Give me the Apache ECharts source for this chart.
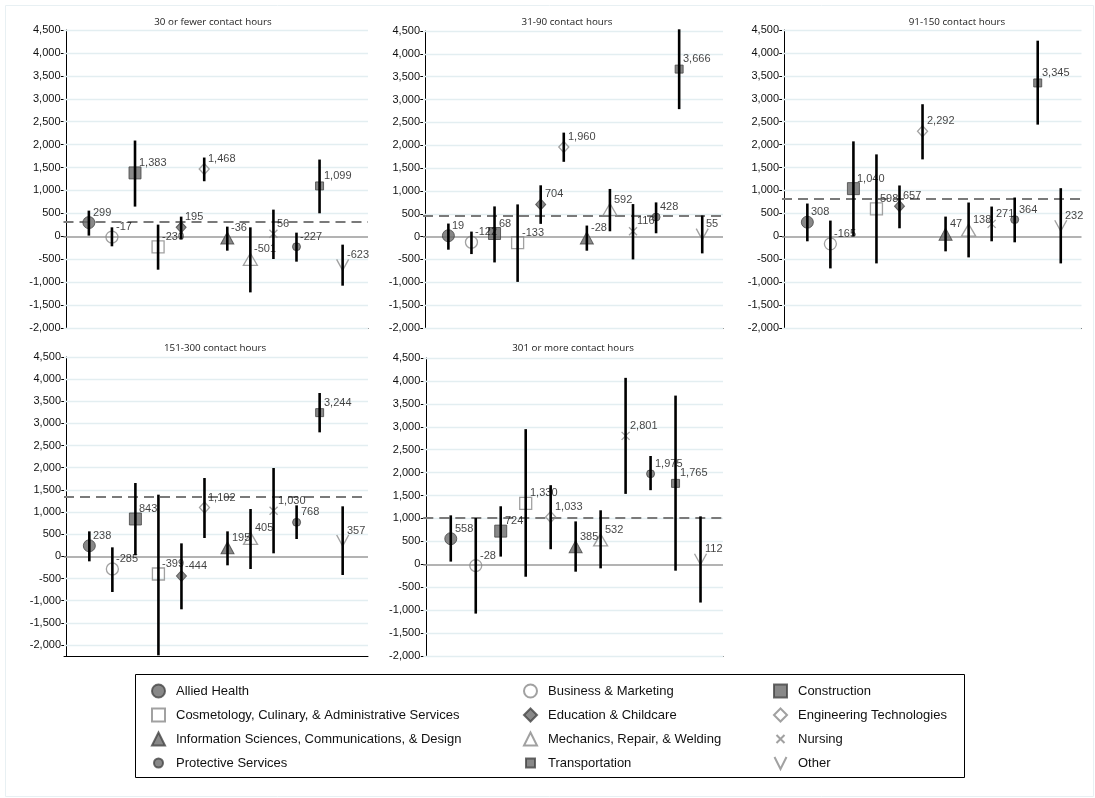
<!DOCTYPE html>
<html>
<head>
<meta charset="utf-8">
<script src="https://cdn.jsdelivr.net/npm/echarts@6/dist/echarts.min.js"></script>
<style>
  html, body { margin: 0; padding: 0; background: #fff; }
  #chart { width: 1095px; height: 798px; }
</style>
</head>
<body>
<div id="chart"></div>
<script>
// Program categories, in plotting order
const categories = [
  'Allied Health',
  'Business & Marketing',
  'Construction',
  'Cosmetology, Culinary, & Administrative Services',
  'Education & Childcare',
  'Engineering Technologies',
  'Information Sciences, Communications, & Design',
  'Mechanics, Repair, & Welding',
  'Nursing',
  'Protective Services',
  'Transportation',
  'Other'
];

const panelTitles = [
  '30 or fewer contact hours',
  '31-90 contact hours',
  '91-150 contact hours',
  '151-300 contact hours',
  '301 or more contact hours'
];

// Point estimates and confidence bounds by contact-hour band (null = no estimate)
const estUpTo30 = [299, -17, 1383, -230, 195, 1468, -36, -501, 56, -227, 1099, -623];
const lowUpTo30 = [15, -218, 648, -728, -58, 1201, -313, -1223, -495, -553, 502, -1077];
const highUpTo30 = [560, 196, 2089, 255, 429, 1718, 211, 196, 582, 80, 1674, -182];

const est31to90 = [19, -122, 68, -133, 704, 1960, -28, 592, 116, 428, 3666, 55];
const low31to90 = [-286, -382, -565, -991, 279, 1637, -308, 117, -499, 73, 2790, -367];
const high31to90 = [286, 110, 661, 705, 1123, 2276, 242, 1043, 712, 749, 4537, 463];

const est91to150 = [308, -165, 1040, 598, 657, 2292, 47, 138, 271, 364, 3345, 232];
const low91to150 = [-109, -700, 5, -591, 175, 1678, -328, -460, -109, -131, 2436, -591];
const high91to150 = [715, 343, 2071, 1787, 1109, 2881, 430, 737, 649, 846, 4267, 1050];

const est151to300 = [238, -285, 843, -399, -444, 1102, 195, 405, 1030, 768, 3244, 357];
const low151to300 = [-113, -805, 23, -2235, -1196, 414, -203, -286, 68, 391, 2799, -421];
const high151to300 = [564, 203, 1655, 1392, 293, 1768, 564, 1068, 1994, 1151, 3687, 1129];

const est301plus = [558, -28, 724, 1330, null, 1033, 385, 532, 2801, 1975, 1765, 112];
const low301plus = [59, -1075, 168, -271, null, 329, -161, -88, 1536, 1617, -139, -834];
const high301plus = [1068, 1010, 1266, 2948, null, 1726, 936, 1178, 4067, 2363, 3680, 1046];

// Overall estimate for each band (dashed reference line)
const overallEstimate = [321, 466, 830, 1354, 1024];

// Y-axis tick labels
const yTickValues = [-2000, -1500, -1000, -500, 0, 500, 1000, 1500, 2000, 2500, 3000, 3500, 4000, 4500];
const yAxisMin = [-2000, -2000, -2000, -2250, -2000];
const yAxisMax = 4500;

const estimates = [estUpTo30, est31to90, est91to150, est151to300, est301plus];
const lowers = [lowUpTo30, low31to90, low91to150, low151to300, low301plus];
const uppers = [highUpTo30, high31to90, high91to150, high151to300, high301plus];

// ---- Styling ----
const FONT = 'Liberation Sans, Arial, sans-serif';
const FILL = '#6a6a6a';
const EDGE = '#454545';
const HOLLOW = '#8a8a8a';
const CLEAR = 'rgba(0,0,0,0)';

const markerStyles = [
  { symbol: 'circle', size: 12, filled: true },
  { symbol: 'circle', size: 12, filled: false },
  { symbol: 'rect', size: 12, filled: true },
  { symbol: 'rect', size: 12, filled: false },
  { symbol: 'diamond', size: [10, 11], filled: true },
  { symbol: 'diamond', size: [10, 11], filled: false },
  { symbol: 'triangle', size: [13, 12], filled: true },
  { symbol: 'triangle', size: [14, 12], filled: false },
  { symbol: 'path://M0,0L10,10M10,0L0,10', size: 8, filled: false },
  { symbol: 'circle', size: 8, filled: true },
  { symbol: 'rect', size: 8, filled: true },
  { symbol: 'path://M0,0L5,10L10,0', size: [12, 11], filled: false }
];

// Legend icons (the smaller markers are padded so they stay small in the key)
const legendIcons = [
  'circle', 'circle', 'rect', 'rect', 'diamond', 'diamond', 'triangle', 'triangle',
  'path://M0,0M13,13M2.5,2.5L10.5,10.5M10.5,2.5L2.5,10.5',
  'path://M0,0M13,13M11,6.5A4.5,4.5,0,1,1,2,6.5A4.5,4.5,0,1,1,11,6.5Z',
  'path://M0,0M13,13M2,2L11,2L11,11L2,11Z',
  'path://M0,0M13,13M0.5,0.5L6.5,12.5L12.5,0.5'
];

// Panel placement
const panelBoxes = [
  { left: 63.5, top: 30, width: 304.5, height: 298, xMin: -0.1, xMax: 13.1, titleX: 208, titleY: 19 },
  { left: 423, top: 31, width: 300, height: 297, xMin: -0.1, xMax: 12.9, titleX: 562, titleY: 19 },
  { left: 782, top: 30, width: 299.5, height: 298, xMin: -0.1, xMax: 12.9, titleX: 952, titleY: 19 },
  { left: 64, top: 357, width: 304, height: 299, xMin: -0.1, xMax: 13.1, titleX: 210, titleY: 345 },
  { left: 423.3, top: 358, width: 299.7, height: 298, xMin: -0.1, xMax: 11.9, titleX: 568, titleY: 345 }
];

const fmt = v => Number(v).toLocaleString('en-US');

// Value labels sit up and to the right of each marker, snapped to whole pixels
const valueLabelLayout = params => ({
  x: Math.round(params.rect.x + params.rect.width / 2 + 4),
  y: Math.round(params.rect.y + params.rect.height / 2 - 16),
  align: 'left',
  verticalAlign: 'top'
});

const grid = [], xAxis = [], yAxis = [], title = [], series = [];

panelBoxes.forEach((box, p) => {
  grid.push({ left: box.left, top: box.top, width: box.width, height: box.height, containLabel: false });
  title.push({
    text: panelTitles[p], left: box.titleX, top: box.titleY - 7, textAlign: 'center',
    textStyle: { fontFamily: 'Open Sans, sans-serif', fontSize: 9.8, fontWeight: 'normal', color: '#1a1a1a' }
  });
  xAxis.push({
    type: 'value', gridIndex: p, min: box.xMin, max: box.xMax,
    axisLine: { show: true, onZero: false, lineStyle: { color: '#000', width: 1 } },
    axisTick: { show: false }, axisLabel: { show: false }, splitLine: { show: false }
  });
  yAxis.push({
    type: 'value', gridIndex: p, min: yAxisMin[p], max: yAxisMax,
    axisLine: { show: true, lineStyle: { color: '#000', width: 1 } },
    axisTick: { show: true, length: 5, customValues: yTickValues, lineStyle: { color: '#000', width: 1 } },
    axisLabel: { customValues: yTickValues, formatter: fmt, fontFamily: FONT, fontSize: 11, color: '#111', margin: 3 },
    splitLine: { show: false }
  });

  // Reference lines (grid, zero, overall estimate) on the bottom layer
  const gridLines = yTickValues.filter(v => v !== 0).map(v => ({
    yAxis: v, lineStyle: { color: '#e3eef1', width: 1.3, type: 'solid' }
  }));
  series.push({
    type: 'scatter', xAxisIndex: p, yAxisIndex: p, data: [], silent: true, zlevel: 0, z: 1,
    markLine: {
      silent: true, symbol: 'none', label: { show: false }, animation: false,
      data: gridLines.concat([
        { yAxis: 0, lineStyle: { color: '#9a9a9a', width: 1.5, type: 'solid' } },
        { yAxis: overallEstimate[p], lineStyle: { color: '#7a7a7a', width: 2, type: [10, 6] } }
      ])
    }
  });

  // Categories present in this band, placed left to right
  const present = [];
  categories.forEach((c, i) => { if (estimates[p][i] !== null) present.push(i); });

  present.forEach((i, k) => {
    const m = markerStyles[i];
    series.push({
      name: categories[i], type: 'scatter', xAxisIndex: p, yAxisIndex: p, zlevel: 1, z: 3,
      symbol: m.symbol, symbolSize: m.size,
      itemStyle: m.filled
        ? { color: FILL, borderColor: EDGE, borderWidth: 1 }
        : { color: CLEAR, borderColor: HOLLOW, borderWidth: 1.3 },
      label: {
        show: true, position: 'inside',
        formatter: d => fmt(d.value[1]), fontFamily: FONT, fontSize: 11, color: '#111',
        textBorderWidth: 0
      },
      labelLayout: valueLabelLayout,
      emphasis: { disabled: true },
      data: [[k + 1, estimates[p][i]]]
    });
  });

  // Confidence intervals
  series.push({
    type: 'custom', xAxisIndex: p, yAxisIndex: p, zlevel: 1, z: 4, silent: true,
    encode: { x: 0, y: [1, 2] },
    data: present.map((i, k) => [k + 1, lowers[p][i], uppers[p][i]]),
    renderItem: (params, api) => {
      const a = api.coord([api.value(0), api.value(1)]);
      const b = api.coord([api.value(0), api.value(2)]);
      return { type: 'line', shape: { x1: a[0], y1: a[1], x2: b[0], y2: b[1] }, style: { stroke: '#000', lineWidth: 2.6 } };
    }
  });
});

// Legend in three columns
const legendColumns = [
  { left: 146, items: [0, 3, 6, 9] },
  { left: 518, items: [1, 4, 7, 10] },
  { left: 768, items: [2, 5, 8, 11] }
];
const legend = legendColumns.map(col => ({
  orient: 'vertical', left: col.left, top: 678.5, itemWidth: 13, itemHeight: 13, itemGap: 9,
  selectedMode: false,
  textStyle: { fontFamily: FONT, fontSize: 13, color: '#111', padding: [0, 0, 0, 6] },
  data: col.items.map(i => ({ name: categories[i], icon: legendIcons[i] }))
}));

const option = {
  animation: false,
  backgroundColor: '#fff',
  title, grid, xAxis, yAxis, series, legend,
  graphic: [
    { type: 'rect', silent: true, z: -10, shape: { x: 5.5, y: 5.5, width: 1088, height: 791 },
      style: { fill: 'none', stroke: '#e8f0f3', lineWidth: 1 } },
    { type: 'rect', silent: true, shape: { x: 135.5, y: 674.5, width: 829, height: 103 },
      style: { fill: 'none', stroke: '#000', lineWidth: 1 } }
  ]
};

const chart = echarts.init(document.getElementById('chart'));
chart.setOption(option);
</script>
</body>
</html>
